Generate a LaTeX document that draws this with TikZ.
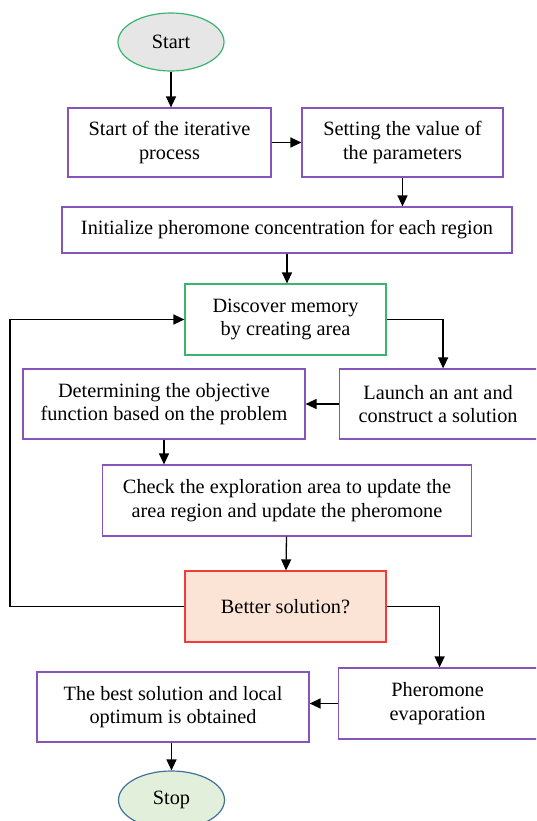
\documentclass[tikz,border=0pt]{standalone}
\usepackage{fontspec}
\setmainfont{Liberation Serif}
\usetikzlibrary{shapes.geometric, arrows.meta}
\definecolor{boxpurple}{RGB}{135,85,185}
\definecolor{boxgreen}{RGB}{60,180,110}
\definecolor{boxred}{RGB}{240,60,60}
\definecolor{betterfill}{RGB}{251,228,214}
\definecolor{startfill}{RGB}{230,230,230}
\definecolor{stopfill}{RGB}{226,239,218}
\definecolor{stopdraw}{RGB}{65,113,156}
\tikzstyle{process} = [rectangle, minimum height=69pt, text centered, align=center, inner sep=0pt, draw=boxpurple, line width=1.2pt, fill=white]
\tikzstyle{startstop} = [ellipse, minimum width=106pt, minimum height=58pt, inner sep=0pt, line width=1.2pt]
\tikzstyle{arrow} = [line width=1.3pt,-{Triangle[length=11pt,width=10pt]}]

\begin{document}
\begin{tikzpicture}[x=1pt,y=-1pt,font=\fontsize{20.3}{23.3}\selectfont]
\clip (0,0) rectangle (536,821);

\node (start) [startstop, fill=startfill, draw=boxgreen] at (171,42) {Start};
\node (iter) [process, minimum width=203pt] at (169.5,142.5) {Start of the iterative\\process};
\node (param) [process, minimum width=201pt] at (402.5,142.5) {Setting the value of\\the parameters};
\node (init) [process, minimum width=450pt, minimum height=46pt] at (287,230) {Initialize pheromone concentration for each region};
\node (memory) [process, draw=boxgreen, minimum width=201pt, minimum height=71pt] at (285.5,319.5) {Discover memory\\by creating area};
\node (launch) [process, minimum width=202pt, minimum height=70pt, anchor=west] at (338.5,404) {\hspace{-4pt}Launch an ant and\\\hspace{-4pt}construct a solution};
\node (objective) [process, minimum width=282pt, minimum height=70pt] at (164,404) {Determining the objective\\function based on the problem};
\node (check) [process, minimum width=369pt, minimum height=71pt] at (287,500.5) {Check the exploration area to update the\\area region and update the pheromone};
\node (better) [process, draw=boxred, fill=betterfill, minimum width=201pt, minimum height=71pt] at (285.5,606.5) {Better solution?};
\node (evap) [process, minimum width=202pt, minimum height=71pt, anchor=west] at (338,703.5) {\hspace{-4pt}Pheromone\\\hspace{-4pt}evaporation};
\node (best) [process, minimum width=272pt, minimum height=70pt] at (173,707) {The best solution and local\\optimum is obtained};
\node (stop) [startstop, fill=stopfill, draw=stopdraw] at (171.5,800) {Stop};
\coordinate (loop) at (10,450);

\draw [arrow] (start.south) -- (start.south |- iter.north);
\draw [arrow] (iter) -- (param);
\draw [arrow] (param.south) -- (param.south |- init.north);
\draw [arrow] (init.south) -- (init.south |- memory.north);
\draw [arrow] (memory.east) -| ([xshift=3pt]launch.north);
\draw [arrow] (launch) -- (objective);
\draw [arrow] (objective.south) -- (objective.south |- check.north);
\draw [arrow] (check) -- (better);
\draw [arrow] (better.west) -| (loop) |- (memory.west);
\draw [arrow] (better.east) -| (evap.north);
\draw [arrow] (evap.west) -- (best.east |- evap.west);
\draw [arrow] (stop.north |- best.south) -- (stop);
\end{tikzpicture}
\end{document}
